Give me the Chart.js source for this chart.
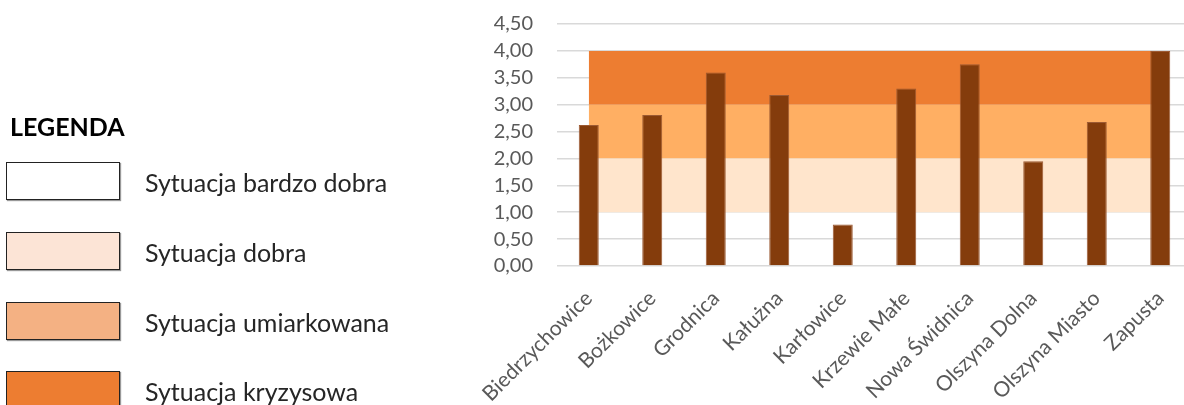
<!DOCTYPE html>
<html>
<head>
<meta charset="utf-8">
<script src="https://cdn.jsdelivr.net/npm/chart.js@4"></script>
<style>
  html, body { margin: 0; padding: 0; background: #fff; overflow: hidden; }
  body { width: 1184px; height: 405px; position: relative; font-family: Lato, "Open Sans", sans-serif; }
  #wrap { position: absolute; left: 0; top: 0; width: 1192px; height: 405px; }
  #legend { position: absolute; left: 0; top: 0; width: 480px; height: 405px; }
  #legend .title { position: absolute; left: 10px; top: 111px; font-weight: bold; font-size: 25px; color: #000; }
  #legend .item { position: absolute; left: 6px; height: 38px; }
  #legend .box { position: absolute; left: 0; top: 0; width: 112px; height: 36px; border: 1px solid #222; box-shadow: 1px 1px 1px #999; }
  #legend .lbl { position: absolute; left: 139px; top: 5px; white-space: nowrap; font-size: 25px; color: #262626; }
</style>
</head>
<body>
<div id="wrap"><canvas id="chart" width="1192" height="405"></canvas></div>
<div id="legend"><div class="title">LEGENDA</div></div>
<script>
// villages and their index values
var categories = ['Biedrzychowice', 'Bożkowice', 'Grodnica', 'Kałużna', 'Karłowice',
                  'Krzewie Małe', 'Nowa Świdnica', 'Olszyna Dolna', 'Olszyna Miasto', 'Zapusta'];
var values = [2.62, 2.81, 3.60, 3.18, 0.77, 3.30, 3.75, 1.95, 2.68, 4.00];

// background bands (lower / upper limits)
var bandLower = [1, 2, 3];
var bandUpper = [2, 3, 4];
var bandColors = ['#FFE5CC', '#FFAF63', '#ED7D31'];

// legend entries
var legendLabels = ['Sytuacja bardzo dobra', 'Sytuacja dobra', 'Sytuacja umiarkowana', 'Sytuacja kryzysowa'];
var legendColors = ['#FFFFFF', '#FCE4D6', '#F4B183', '#ED7D31'];
var legendTops = [162, 232, 302, 371];

var legend = document.getElementById('legend');
legendLabels.forEach(function(txt, i) {
    var item = document.createElement('div');
    item.className = 'item';
    item.style.top = legendTops[i] + 'px';
    item.innerHTML = '<div class="box" style="background:' + legendColors[i] + '"></div>' +
                     '<div class="lbl">' + txt + '</div>';
    legend.appendChild(item);
});

var datasets = [{
    type: 'bar',
    label: 'Wskaźnik',
    data: values,
    backgroundColor: '#843C0C',
    borderColor: '#9C5A33',
    borderWidth: 1,
    categoryPercentage: 1,
    barPercentage: 0.315,
    order: 0
}];
bandUpper.forEach(function(up, i) {
    datasets.push({
        type: 'line',
        label: 'band' + i,
        data: categories.map(function() { return up; }),
        fill: { value: bandLower[i] },
        backgroundColor: bandColors[i],
        borderWidth: 0,
        pointRadius: 0,
        tension: 0,
        order: 1
    });
});

var gray = '#595959';
var ctx = document.getElementById('chart').getContext('2d');
var chart = new Chart(ctx, {
    type: 'bar',
    data: { labels: categories, datasets: datasets },
    options: {
        responsive: false,
        animation: false,
        layout: { padding: { top: 24, right: 0, left: 0, bottom: 0 } },
        plugins: { legend: { display: false }, tooltip: { enabled: false } },
        scales: {
            x: {
                offset: true,
                grid: { display: false },
                border: { display: false },
                ticks: {
                    color: gray,
                    font: { family: 'Lato', size: 21 },
                    minRotation: 45,
                    maxRotation: 45,
                    autoSkip: false,
                    padding: 12
                },
                afterFit: function(scale) { scale.height = 139; }
            },
            y: {
                min: 0,
                max: 4.5,
                border: { display: false },
                grid: { color: '#D9D9D9', lineWidth: 1.5, drawTicks: false },
                ticks: {
                    stepSize: 0.5,
                    autoSkip: false,
                    color: gray,
                    padding: 24,
                    font: { family: 'Lato', size: 20 },
                    callback: function(v) { return v.toFixed(2).replace('.', ','); }
                },
                afterFit: function(scale) {
                    scale.width = 557;
                    scale.paddingTop = 0;
                }
            }
        }
    }
});
</script>
</body>
</html>
